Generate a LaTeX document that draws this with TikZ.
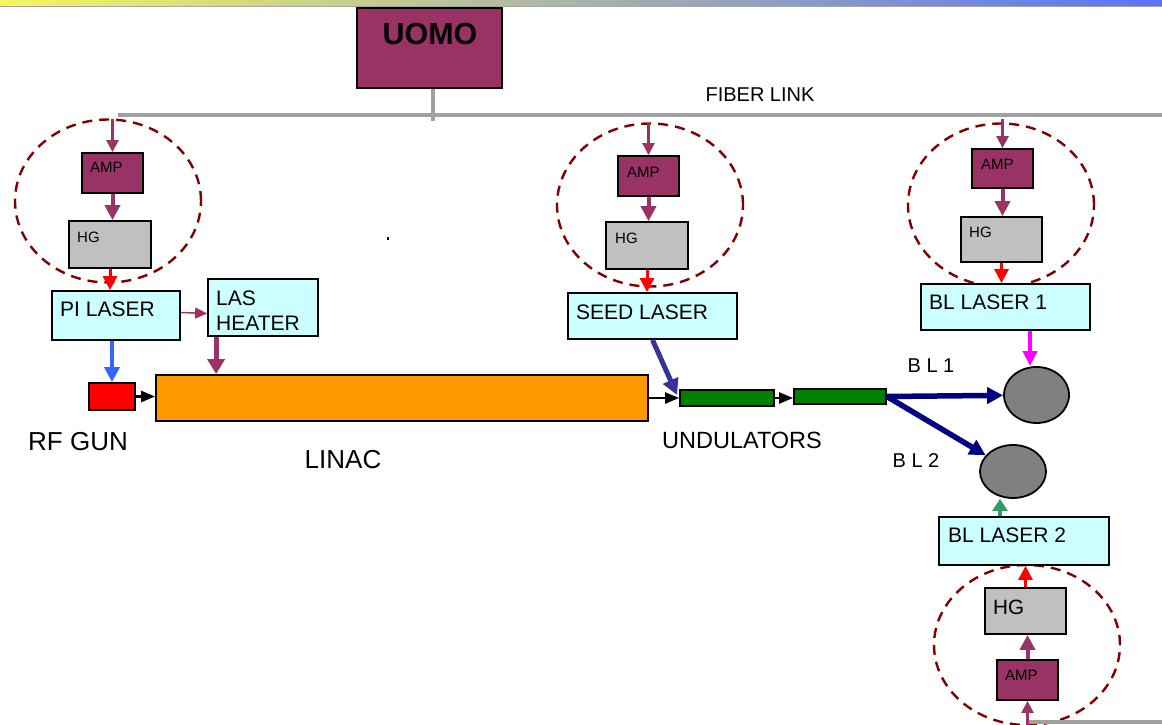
\documentclass[tikz,border=0pt]{standalone}
\usepackage{fontspec}
\setmainfont{Liberation Sans}
\usepackage{tikz}
\usetikzlibrary{arrows.meta,shapes.geometric}
\definecolor{ampc}{HTML}{993366}
\definecolor{hgc}{HTML}{C0C0C0}
\definecolor{lasc}{HTML}{CCFFFF}
\definecolor{ringc}{HTML}{800000}
\definecolor{fibc}{HTML}{A0A0A0}
\definecolor{gunc}{HTML}{FF0000}
\definecolor{linacc}{HTML}{FF9900}
\definecolor{undc}{HTML}{008000}
\definecolor{seedc}{HTML}{333399}
\definecolor{bluec}{HTML}{3366FF}
\definecolor{navyc}{HTML}{000080}
\definecolor{magc}{HTML}{FF00FF}
\definecolor{greenc}{HTML}{339966}
\definecolor{stc}{HTML}{808080}
\definecolor{barl}{HTML}{F5F560}
\definecolor{barr}{HTML}{5A73F5}

\begin{document}
\begin{tikzpicture}[x=1pt,y=-1pt,
        every node/.append style={inner sep=0pt},
        unitbox/.style={draw=black,line width=1.8pt,rectangle},
        ampbox/.style={unitbox,fill=ampc,minimum width=61pt,minimum height=40pt},
        hgbox/.style={unitbox,fill=hgc,minimum width=82pt,minimum height=47pt},
        lasbox/.style={unitbox,fill=lasc},
        ringe/.style={ellipse,draw=ringc,line width=2.4pt,dash pattern=on 10pt off 7pt,minimum width=186pt,minimum height=163pt},
        endst/.style={ellipse,draw=black,line width=1.8pt,fill=stc},
        txtbig/.style={font=\fontsize{21}{25}\selectfont},
        txtsmall/.style={font=\fontsize{15}{18}\selectfont},
        txtlab/.style={font=\fontsize{26}{30}\selectfont},
        fiber/.style={draw=fibc,line width=4pt},
        feed/.style={draw=ampc,line width=2.5pt,-{Triangle[length=12pt,width=12pt]}},
        pump/.style={draw=ampc,line width=4pt,-{Triangle[length=15pt,width=15pt]}},
        pumpw/.style={draw=ampc,line width=5pt,-{Triangle[length=15pt,width=17pt]}},
        thinp/.style={draw=ampc,line width=1.5pt,-{Triangle[length=12pt,width=11pt]}},
        hgout/.style={draw=red,line width=3pt,-{Triangle[length=14pt,width=14pt]}},
        bluea/.style={draw=bluec,line width=4.5pt,-{Triangle[length=15pt,width=15pt]}},
        blk/.style={draw=black,line width=2.5pt,-{Triangle[length=14pt,width=11pt]}},
        seeda/.style={draw=seedc,line width=5pt,-{Triangle[length=16pt,width=16pt]}},
        navya/.style={draw=navyc,line width=5.5pt,-{Triangle[length=16pt,width=16pt]}},
        maga/.style={draw=magc,line width=4pt,-{Triangle[length=15pt,width=14pt]}},
        greena/.style={draw=greenc,line width=4pt,-{Triangle[length=12pt,width=15pt]}}]
        \useasboundingbox (0,0) rectangle (1162,725);
        \shade[left color=barl,right color=barr] (0,0) rectangle (1162,6);
        \draw[gray!70,line width=0.8pt] (0,6.5) -- (1162,6.5);

        \node[unitbox,fill=ampc,minimum width=145pt,minimum height=80pt] (uomo) at (429.5,48) {};
        \node[font=\bfseries\fontsize{30.5}{34}\selectfont] (uomo-t) at (430,34) {UOMO};
        \draw[fiber] (118,115) -- (1162,115);
        \draw[fiber] ([xshift=3.5pt]uomo.south) -- ++(0,32);
        \node[font=\fontsize{20}{24}\selectfont] (fib-t) at (760,95) {FIBER LINK};
        \fill (386.5,236.5) rectangle (388.5,240);

        \node[ringe] (ring1) at (108,201) {};
        \node[ampbox] (amp1) at (112.5,173) {};
        \node[txtsmall,anchor=west] (amp1-t) at (90,167) {AMP};
        \node[hgbox] (hg1) at (110,244.5) {};
        \node[txtsmall,anchor=west] (hg1-t) at (77,237) {HG};
        \node[lasbox,minimum width=128pt,minimum height=49pt] (pil) at (116,315.5) {};
        \node[txtbig,anchor=west] (pil-t) at (60,309) {PI LASER};
        \node[lasbox,minimum width=110pt,minimum height=57pt] (lash) at (263,307.5) {};
        \node[txtbig,anchor=west,align=left] (lash-t) at (216,310.5) {LAS\\HEATER};
        \node[unitbox,fill=gunc,minimum width=46pt,minimum height=27pt] (gun) at (112,396.5) {};
        \node[unitbox,fill=linacc,minimum width=492pt,minimum height=46pt] (linac) at (402,398) {};
        \node[txtlab] (gun-t) at (78,442) {RF GUN};
        \node[txtlab] (linac-t) at (343,460) {LINAC};
        \draw[feed] ([yshift=33pt]amp1.north) -- (amp1.north);
        \draw[pump] (amp1.south) -- (amp1.south |- hg1.north);
        \draw[hgout] (hg1.south) -- (hg1.south |- pil.north);
        \draw[thinp] ([yshift=3pt]pil.east) -- ([yshift=-6pt]lash.west);
        \draw[pumpw] ([xshift=9pt]lash.south west) -- ([xshift=9pt]lash.south west |- linac.north);
        \draw[bluea] (gun.north |- pil.south) -- (gun.north);
        \draw[blk] (gun.east) -- (gun.east -| linac.west);

        \node[ringe] (ring2) at (650,205) {};
        \node[ampbox] (amp2) at (648.5,176) {};
        \node[txtsmall,anchor=west] (amp2-t) at (627,172) {AMP};
        \node[hgbox] (hg2) at (647,245.5) {};
        \node[txtsmall,anchor=west] (hg2-t) at (615,238) {HG};
        \node[lasbox,minimum width=169pt,minimum height=46pt] (seed) at (652.5,316) {};
        \node[txtbig,anchor=west] (seed-t) at (576,312) {SEED LASER};
        \node[unitbox,fill=undc,minimum width=94pt,minimum height=16pt] (und1) at (727,398) {};
        \node[unitbox,fill=undc,minimum width=92pt,minimum height=15pt] (und2) at (840,396.5) {};
        \node[font=\fontsize{23.5}{28}\selectfont] (und-t) at (742,440) {UNDULATORS};
        \draw[feed] ([yshift=32pt]amp2.north) -- (amp2.north);
        \draw[pump] (amp2.south) -- (amp2.south |- hg2.north);
        \draw[hgout] (hg2.south) -- (hg2.south |- seed.north);
        \draw[seeda] (seed.south) -- ([xshift=-2pt,yshift=3pt]und1.west);
        \draw[blk] (linac.east) -- (und1.west);
        \draw[blk] (und1.east) -- (und1.east -| und2.west);

        \node[ringe] (ring3) at (1001,205) {};
        \node[ampbox,minimum height=39pt] (amp3) at (1002.5,168.5) {};
        \node[txtsmall,anchor=west] (amp3-t) at (981,164) {AMP};
        \node[hgbox,minimum width=81pt,minimum height=45pt] (hg3) at (1001.5,239.5) {};
        \node[txtsmall,anchor=west] (hg3-t) at (969,232) {HG};
        \node[lasbox,minimum width=169pt,minimum height=46pt] (bl1) at (1005.5,307) {};
        \node[txtbig,anchor=west] (bl1-t) at (929,302.5) {BL LASER 1};
        \node[endst,minimum width=65pt,minimum height=56pt] (st1) at (1036.5,395) {};
        \node[font=\fontsize{20}{24}\selectfont] (bl1-l) at (931,366) {B L 1};
        \draw[feed] ([yshift=29pt]amp3.north) -- (amp3.north);
        \draw[pump] (amp3.south) -- (amp3.south |- hg3.north);
        \draw[hgout] (hg3.south) -- (hg3.south |- bl1.north);
        \draw[maga] ([xshift=24.5pt]bl1.south) -- ([xshift=24.5pt]bl1.south |- st1.north);

        \node[ringe,minimum height=160pt] (ring4) at (1027,645) {};
        \node[endst,minimum width=66pt,minimum height=53pt] (st2) at (1013,471.5) {};
        \node[font=\fontsize{20}{24}\selectfont] (bl2-l) at (916,461) {B L 2};
        \node[lasbox,minimum width=170pt,minimum height=48pt] (bl2) at (1024,541) {};
        \node[txtbig,anchor=west] (bl2-t) at (948,535.5) {BL LASER 2};
        \node[hgbox,minimum width=81pt,minimum height=46pt] (hg4) at (1025.5,611) {};
        \node[font=\fontsize{20.7}{24}\selectfont,anchor=west] (hg4-t) at (993,607) {HG};
        \node[ampbox] (amp4) at (1027.5,680) {};
        \node[txtsmall,anchor=west] (amp4-t) at (1005,675) {AMP};
        \draw[navya] (und2.east) -- (st1);
        \draw[navya] (und2.east) -- (st2);
        \draw[greena] ([xshift=-24pt]bl2.north) -- ([xshift=-24pt]bl2.north |- st2.south);
        \draw[hgout] (hg4.north) -- (hg4.north |- bl2.south);
        \draw[pump] (amp4.north) -- (amp4.north |- hg4.south);
        \draw[fiber] (1028,722) -- (1162,722);
        \draw[feed] ([yshift=-25pt]amp4.south) -- (amp4.south);
      \end{tikzpicture}
\end{document}
